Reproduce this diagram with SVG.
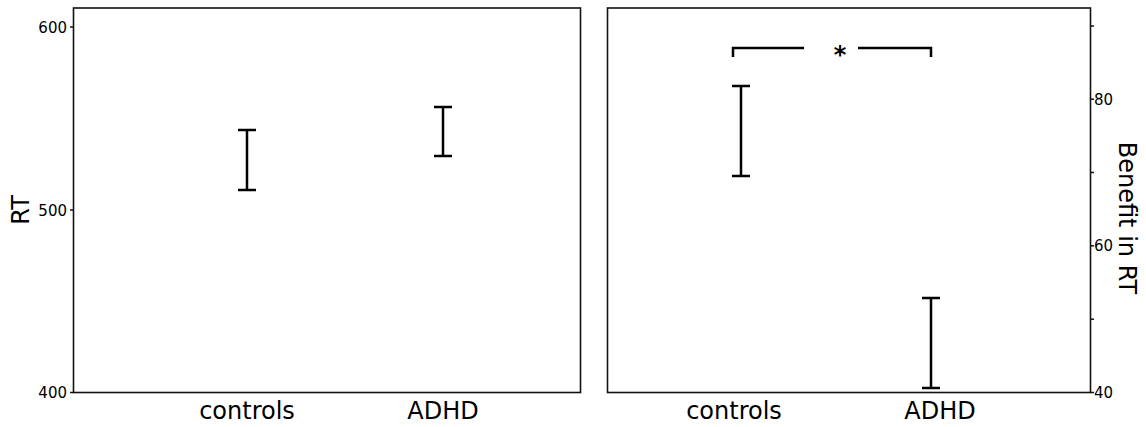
<svg xmlns="http://www.w3.org/2000/svg" width="1146" height="427" viewBox="0 0 1146 427">
<style>
.ax{fill:none;stroke:#111;stroke-width:1.6}
.tk{stroke:#111;stroke-width:1.5}
.eb{fill:none;stroke:#000;stroke-width:2.5}
.tl{font-family:"DejaVu Sans",sans-serif;font-size:15px;fill:#000}
.lb{font-family:"DejaVu Sans",sans-serif;font-size:24px;fill:#000}
.xl{font-family:"DejaVu Sans",sans-serif;font-size:24px;fill:#000;text-anchor:middle}
</style>
<rect width="1146" height="427" fill="#fff"/>
<g id="left-axes">
<rect class="ax" x="73.5" y="8" width="507" height="384.5"/>
<line class="tk" x1="70" y1="27" x2="73.5" y2="27"/>
<line class="tk" x1="70" y1="210" x2="73.5" y2="210"/>
<line class="tk" x1="70" y1="392.5" x2="73.5" y2="392.5"/>
<text class="tl" x="67" y="32.5" text-anchor="end">600</text>
<text class="tl" x="67" y="215.5" text-anchor="end">500</text>
<text class="tl" x="67" y="398" text-anchor="end">400</text>
<text class="lb" transform="translate(28.5,210) rotate(-90)" text-anchor="middle">RT</text>
<text class="xl" x="247" y="419">controls</text>
<text class="xl" x="443" y="419">ADHD</text>
</g>
<g id="left-bars">
<path class="eb" d="M247,130V190M238,130H256M238,190H256"/>
<path class="eb" d="M443,107V156M434,107H452M434,156H452"/>
</g>
<g id="right-axes">
<rect class="ax" x="607.5" y="8" width="483" height="384.5"/>
<line class="tk" x1="1090.5" y1="26" x2="1094" y2="26"/>
<line class="tk" x1="1090.5" y1="99.2" x2="1094" y2="99.2"/>
<line class="tk" x1="1090.5" y1="172.5" x2="1094" y2="172.5"/>
<line class="tk" x1="1090.5" y1="245.8" x2="1094" y2="245.8"/>
<line class="tk" x1="1090.5" y1="319.2" x2="1094" y2="319.2"/>
<line class="tk" x1="1090.5" y1="392.5" x2="1094" y2="392.5"/>
<text class="tl" x="1094" y="104.5">80</text>
<text class="tl" x="1094" y="251">60</text>
<text class="tl" x="1094" y="398">40</text>
<text class="lb" transform="translate(1119,218) rotate(90)" text-anchor="middle">Benefit in RT</text>
<text class="xl" x="734" y="419">controls</text>
<text class="xl" x="940" y="419">ADHD</text>
</g>
<g id="right-bars">
<path class="eb" d="M741,86V176M732,86H750M732,176H750"/>
<path class="eb" d="M931,298V388M922,298H940M922,388H940"/>
</g>
<g id="connectors">
<path class="eb" d="M733,57V48H804M858,48H931V57"/>
<text x="840" y="63" font-family="DejaVu Sans,sans-serif" font-size="24px" font-weight="bold" text-anchor="middle">*</text>
</g>
</svg>
